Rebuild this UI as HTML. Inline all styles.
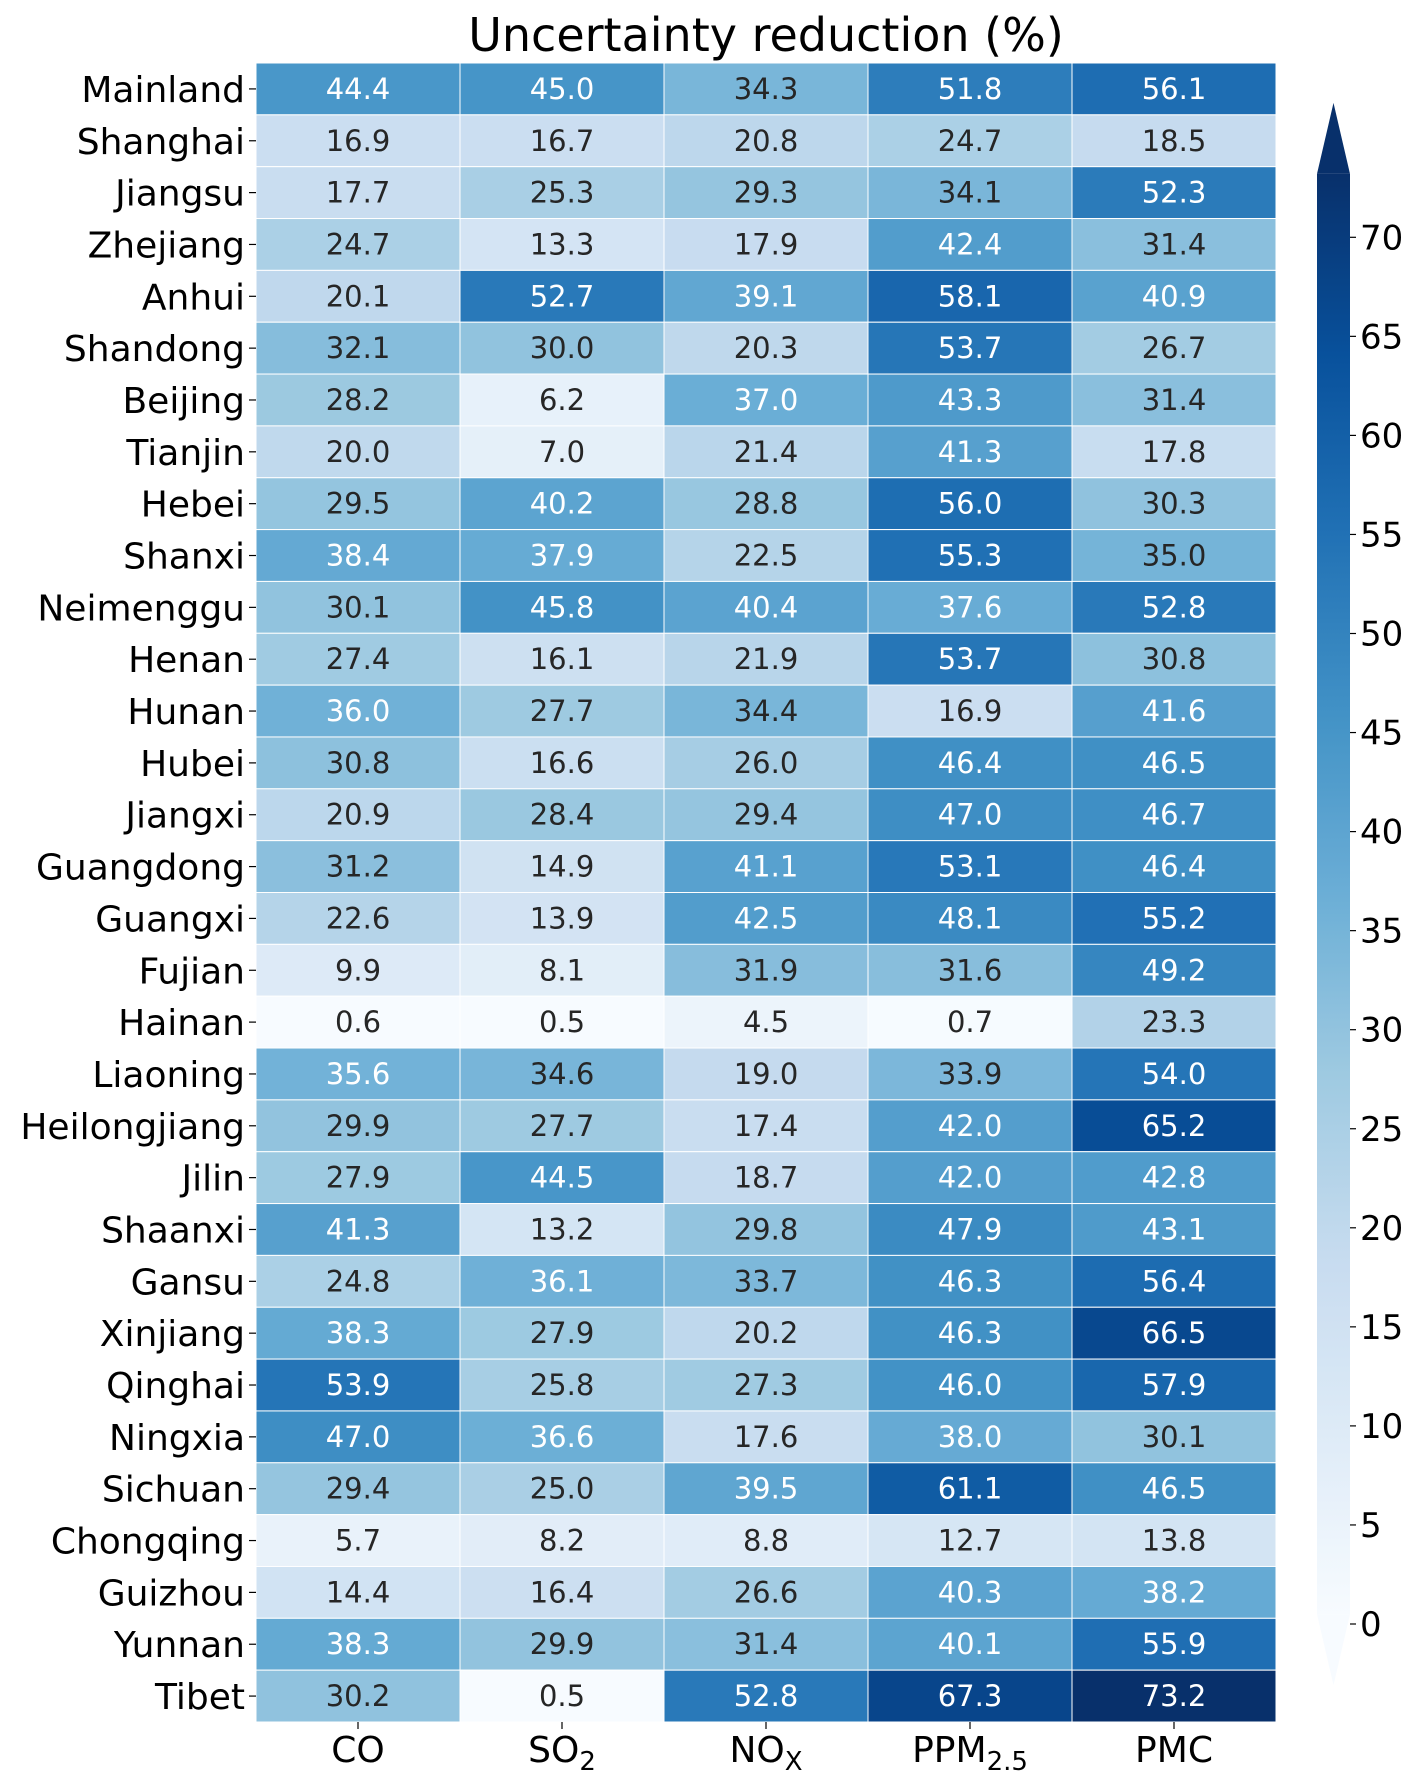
<!DOCTYPE html>
<html><head><meta charset="utf-8"><style>
html,body{margin:0;padding:0;background:#fff;}
svg{display:block;font-family:"DejaVu Sans","Liberation Sans",sans-serif;}
</style></head><body>
<svg id="chart" width="1428" height="1787" viewBox="0 0 1428 1787">
<defs><linearGradient id="cbgrad" x1="0" y1="1" x2="0" y2="0"></linearGradient></defs>
<text x="766" y="51" font-size="46" text-anchor="middle" fill="#000">Uncertainty reduction (%)</text>
<g id="cells"></g><g id="ylabels"></g><g id="xlabels"></g><g id="cbar"></g>
</svg>
<script>
const regions = ["Mainland","Shanghai","Jiangsu","Zhejiang","Anhui","Shandong","Beijing","Tianjin","Hebei","Shanxi","Neimenggu","Henan","Hunan","Hubei","Jiangxi","Guangdong","Guangxi","Fujian","Hainan","Liaoning","Heilongjiang","Jilin","Shaanxi","Gansu","Xinjiang","Qinghai","Ningxia","Sichuan","Chongqing","Guizhou","Yunnan","Tibet"];
const species = ["CO","SO2","NOX","PPM25","PMC"];
const valCO = [44.4,16.9,17.7,24.7,20.1,32.1,28.2,20.0,29.5,38.4,30.1,27.4,36.0,30.8,20.9,31.2,22.6,9.9,0.6,35.6,29.9,27.9,41.3,24.8,38.3,53.9,47.0,29.4,5.7,14.4,38.3,30.2];
const valSO2 = [45.0,16.7,25.3,13.3,52.7,30.0,6.2,7.0,40.2,37.9,45.8,16.1,27.7,16.6,28.4,14.9,13.9,8.1,0.5,34.6,27.7,44.5,13.2,36.1,27.9,25.8,36.6,25.0,8.2,16.4,29.9,0.5];
const valNOX = [34.3,20.8,29.3,17.9,39.1,20.3,37.0,21.4,28.8,22.5,40.4,21.9,34.4,26.0,29.4,41.1,42.5,31.9,4.5,19.0,17.4,18.7,29.8,33.7,20.2,27.3,17.6,39.5,8.8,26.6,31.4,52.8];
const valPPM = [51.8,24.7,34.1,42.4,58.1,53.7,43.3,41.3,56.0,55.3,37.6,53.7,16.9,46.4,47.0,53.1,48.1,31.6,0.7,33.9,42.0,42.0,47.9,46.3,46.3,46.0,38.0,61.1,12.7,40.3,40.1,67.3];
const valPMC = [56.1,18.5,52.3,31.4,40.9,26.7,31.4,17.8,30.3,35.0,52.8,30.8,41.6,46.5,46.7,46.4,55.2,49.2,23.3,54.0,65.2,42.8,43.1,56.4,66.5,57.9,30.1,46.5,13.8,38.2,55.9,73.2];
const cbTicks = [0,5,10,15,20,25,30,35,40,45,50,55,60,65,70];

const NS="http://www.w3.org/2000/svg";
const X0=256,X1=1276,Y0=63,Y1=1722;
const VMIN=0.5,VMAX=73.2;
const cw=(X1-X0)/species.length, rh=(Y1-Y0)/regions.length;
const blues=["#f7fbff","#deebf7","#c6dbef","#9ecae1","#6baed6","#4292c6","#2171b5","#08519c","#08306b"];
function hex(h){return [1,3,5].map(i=>parseInt(h.substr(i,2),16));}
function cmap(v){let t=(v-VMIN)/(VMAX-VMIN);t=Math.max(0,Math.min(1,t));const p=t*8,i=Math.min(7,Math.floor(p)),f=p-i;const a=hex(blues[i]),b=hex(blues[i+1]);return "rgb("+a.map((c,k)=>Math.round(c+(b[k]-c)*f)).join(",")+")";}
function xc(j){return X0+cw*(j+0.5);}
function yc(i){return Y0+rh*(i+0.5);}
function mk(tag,attrs,parent){const e=document.createElementNS(NS,tag);for(const k in attrs)e.setAttribute(k,attrs[k]);parent.appendChild(e);return e;}
const series=[valCO,valSO2,valNOX,valPPM,valPMC];
const cells=document.getElementById("cells");
series.forEach((arr,j)=>{arr.forEach((v,i)=>{
  const r=mk("rect",{x:X0+cw*j,y:Y0+rh*i,width:cw,height:rh,fill:cmap(v),stroke:"#fff","stroke-width":1},cells);
  
  
  const t=mk("text",{x:xc(j),y:yc(i)+10,"font-size":29,"text-anchor":"middle",fill:v>35.3?"#fff":"#262626"},cells);
  t.textContent=v.toFixed(1);
  
  
});});
const yl=document.getElementById("ylabels");
regions.forEach((n,i)=>{
  mk("line",{x1:249,x2:256,y1:yc(i),y2:yc(i),stroke:"#000","stroke-width":1.2},yl);
  const t=mk("text",{x:245,y:yc(i)+13,"font-size":36,"text-anchor":"end",fill:"#000"},yl);
  t.textContent=n;
  
  
});
const xl=document.getElementById("xlabels");
const xlabHTML=['CO','SO<tspan font-size="26" dy="8">2</tspan>','NO<tspan font-size="26" dy="8">X</tspan>','PPM<tspan font-size="26" dy="8">2.5</tspan>','PMC'];
species.forEach((s,j)=>{
  mk("line",{x1:xc(j),x2:xc(j),y1:Y1,y2:Y1+7,stroke:"#000","stroke-width":1.2},xl);
  const t=mk("text",{x:xc(j),y:1762,"font-size":36,"text-anchor":"middle",fill:"#000"},xl);
  t.innerHTML=xlabHTML[j];
  
  
});
const CBX0=1317,CBX1=1350,PPU=19.81,Y0V=1624;
function cy(v){return Y0V-v*PPU;}
const g=document.getElementById("cbgrad");
for(let k=0;k<=40;k++){mk("stop",{offset:(k/40),"stop-color":cmap(VMIN+(VMAX-VMIN)*k/40)},g);}
const cb=document.getElementById("cbar");
const yTop=cy(VMAX),yBot=cy(VMIN),tri=71;
mk("path",{d:`M${CBX0},${yTop} L${(CBX0+CBX1)/2},${yTop-tri} L${CBX1},${yTop} Z`,fill:cmap(VMAX)},cb);
mk("path",{d:`M${CBX0},${yBot} L${(CBX0+CBX1)/2},${yBot+tri} L${CBX1},${yBot} Z`,fill:cmap(VMIN)},cb);
const bar=mk("rect",{x:CBX0,y:yTop,width:CBX1-CBX0,height:yBot-yTop,fill:"url(#cbgrad)"},cb);


cbTicks.forEach(v=>{
  mk("line",{x1:CBX1,x2:CBX1+6,y1:cy(v),y2:cy(v),stroke:"#000","stroke-width":1.2},cb);
  const t=mk("text",{x:CBX1+10,y:cy(v)+12,"font-size":34,fill:"#000"},cb);
  t.textContent=v;
  
  
});
</script>
</body></html>
